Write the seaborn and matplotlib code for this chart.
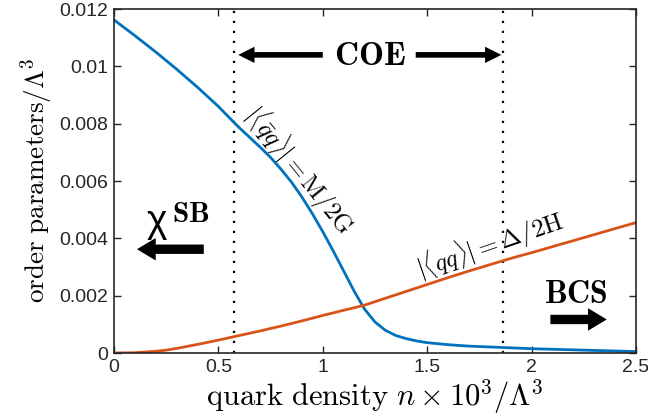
import numpy as np
import pandas as pd
import matplotlib
matplotlib.use("Agg")
import matplotlib.pyplot as plt
import seaborn as sns

# chiral condensate |<qbar q>| = M/2G versus quark density (n x 10^3 / Lambda^3)
chiral_n = [0.0, 0.1, 0.2, 0.3, 0.4, 0.5, 0.575, 0.6, 0.65, 0.7, 0.75, 0.8,
            0.85, 0.9, 0.95, 1.0, 1.05, 1.1, 1.15, 1.2, 1.25, 1.3, 1.35, 1.4,
            1.45, 1.5, 1.6, 1.7, 1.8, 1.9, 2.0, 2.2, 2.4, 2.5]
chiral = [0.01162, 0.01107, 0.01050, 0.00990, 0.00927, 0.00860, 0.00804,
          0.00786, 0.00752, 0.00718, 0.00682, 0.00641, 0.00596, 0.00544,
          0.00486, 0.00423, 0.00356, 0.00286, 0.00216, 0.00153, 0.00108,
          0.00079, 0.00061, 0.00050, 0.00042, 0.00036, 0.00029, 0.00024,
          0.00021, 0.00018, 0.00015, 0.00011, 0.00007, 0.00005]
# diquark condensate |<qq>| = Delta/2H
diquark_n = [0.0, 0.1, 0.2, 0.25, 0.3, 0.4, 0.5, 0.6, 0.7, 0.8, 0.9, 1.0,
             1.1, 1.2, 1.3, 1.4, 1.5, 1.6, 1.7, 1.8, 1.9, 2.0, 2.1, 2.2,
             2.3, 2.4, 2.5]
diquark = [0.0, 0.00001, 0.00006, 0.00010, 0.00016, 0.00030, 0.00045,
           0.00061, 0.00077, 0.00094, 0.00112, 0.00131, 0.00149, 0.00167,
           0.00191, 0.00215, 0.00239, 0.00263, 0.00286, 0.00308, 0.00330,
           0.00350, 0.00371, 0.00392, 0.00413, 0.00434, 0.00455]
# boundaries of the coexistence region
coe_bounds = [0.575, 1.863]

xticks = [0, 0.5, 1, 1.5, 2, 2.5]
xticklabels = ["0", "0.5", "1", "1.5", "2", "2.5"]
yticks = [0, 0.002, 0.004, 0.006, 0.008, 0.010, 0.012]
yticklabels = ["0", "0.002", "0.004", "0.006", "0.008", "0.01", "0.012"]

sns.set_theme(style="ticks")
plt.rcParams["font.family"] = ["Liberation Sans", "DejaVu Sans"]
plt.rcParams["mathtext.fontset"] = "cm"

chiral_df = pd.DataFrame({"n": chiral_n, "value": chiral})
diquark_df = pd.DataFrame({"n": diquark_n, "value": diquark})

fig = plt.figure(figsize=(6.48, 4.17), dpi=100)
ax = fig.add_axes([114 / 648, 64 / 417, 522 / 648, 344 / 417])

blue = "#0072BD"
orange = "#D95319"
sns.lineplot(data=chiral_df, x="n", y="value", ax=ax, color=blue, lw=2.0)
sns.lineplot(data=diquark_df, x="n", y="value", ax=ax, color=orange, lw=2.0)

for xb in coe_bounds:
    ax.axvline(xb, color="black", ls=(0, (1, 3.5)), lw=1.6, zorder=1)

ax.set_xlim(0, 2.5)
ax.set_ylim(0, 0.012)
ax.set_xticks(xticks)
ax.set_xticklabels(xticklabels)
ax.set_yticks(yticks)
ax.set_yticklabels(yticklabels)
ax.tick_params(direction="in", length=5, width=1, top=True, right=True,
               labelsize=14, labelcolor="#262626", color="#262626", pad=4)
for sp in ax.spines.values():
    sp.set_linewidth(1.2)
    sp.set_color("#262626")
    sp.set_visible(True)

ax.set_xlabel(r"$\mathrm{quark\ density}\ n \times 10^3/\Lambda^3$",
              fontsize=22, labelpad=1, color="black")
ax.set_ylabel(r"$\mathrm{order\ parameters}/\Lambda^3$", fontsize=19.5,
              labelpad=3, color="black")

# COE region with double arrows
ax.text(1.226, 0.01035, r"$\mathbf{COE}$", fontsize=24, ha="center",
        va="center", color="black")
thin = dict(arrowstyle="simple,head_length=1.3,head_width=1.3,tail_width=0.45",
            mutation_scale=9, color="black", lw=0, shrinkA=0, shrinkB=0)
ax.annotate("", xy=(0.595, 0.0104), xytext=(1.0, 0.0104), arrowprops=thin)
ax.annotate("", xy=(1.855, 0.0104), xytext=(1.445, 0.0104), arrowprops=thin)

# chiral symmetry breaking side
ax.text(0.205, 0.00458, "χ", fontsize=28, ha="center", va="center",
        family=["Liberation Sans", "DejaVu Sans"], color="black")
ax.text(0.368, 0.00486, r"$\mathbf{SB}$", fontsize=21, ha="center",
        va="center", color="black")
thick = dict(arrowstyle="simple,head_length=1.5,head_width=1.8,tail_width=0.75",
             mutation_scale=9, color="black", lw=0, shrinkA=0, shrinkB=0)
ax.annotate("", xy=(0.11, 0.00362), xytext=(0.43, 0.00362), arrowprops=thick)

# BCS side
ax.text(2.21, 0.00202, r"$\mathbf{BCS}$", fontsize=23, ha="center",
        va="center", color="black")
ax.annotate("", xy=(2.36, 0.00117), xytext=(2.09, 0.00117), arrowprops=thick)

# curve labels
ax.text(0.886, 0.0064, r"$|\langle \bar{q}q\rangle| = \mathrm{M}/2\mathrm{G}$",
        fontsize=18, rotation=-51, ha="center", va="center",
        rotation_mode="anchor", color="black")
ax.text(1.80, 0.00377, r"$|\langle qq\rangle| = \Delta/2\mathrm{H}$",
        fontsize=18, rotation=19, ha="center", va="center",
        rotation_mode="anchor", color="black")

fig.savefig("out.png", dpi=100)
